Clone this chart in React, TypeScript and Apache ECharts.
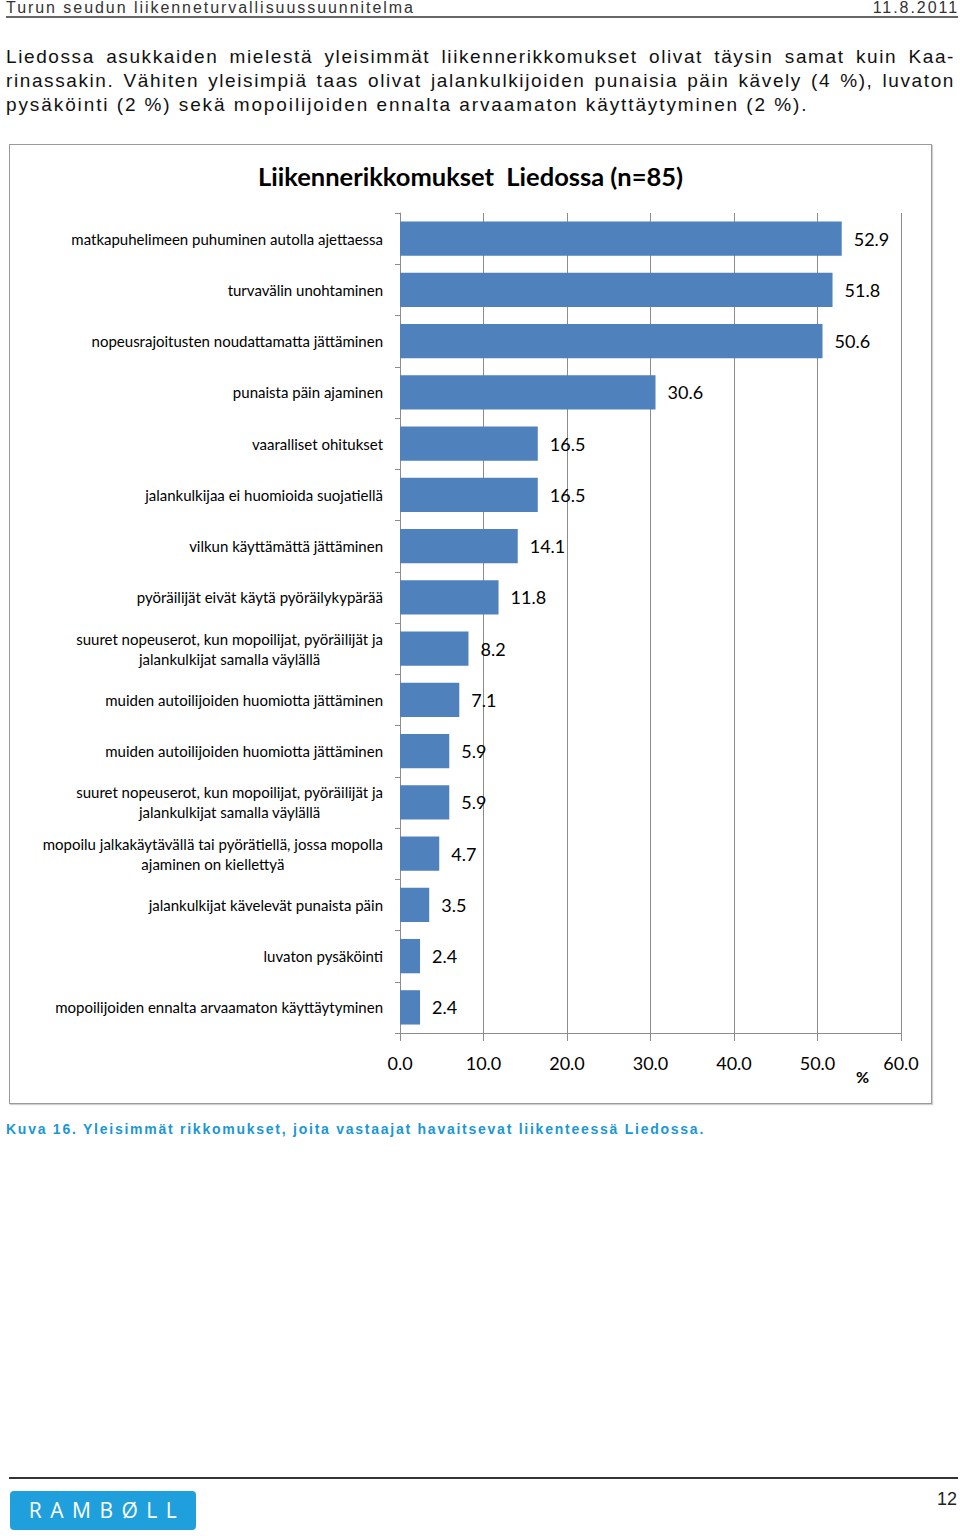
import React, { useEffect, useRef } from "react";
import * as echarts from "echarts";

const chartTitle = "Liikennerikkomukset  Liedossa (n=85)";
const categories = [
  "matkapuhelimeen puhuminen autolla ajettaessa",
  "turvavälin unohtaminen",
  "nopeusrajoitusten noudattamatta jättäminen",
  "punaista päin ajaminen",
  "vaaralliset ohitukset",
  "jalankulkijaa ei huomioida suojatiellä",
  "vilkun käyttämättä jättäminen",
  "pyöräilijät eivät käytä pyöräilykypärää",
  "suuret nopeuserot, kun mopoilijat, pyöräilijät ja\njalankulkijat samalla väylällä",
  "muiden autoilijoiden huomiotta jättäminen",
  "muiden autoilijoiden huomiotta jättäminen",
  "suuret nopeuserot, kun mopoilijat, pyöräilijät ja\njalankulkijat samalla väylällä",
  "mopoilu jalkakäytävällä tai pyörätiellä, jossa mopolla\najaminen on kiellettyä",
  "jalankulkijat kävelevät punaista päin",
  "luvaton pysäköinti",
  "mopoilijoiden ennalta arvaamaton käyttäytyminen",
];
const values = [52.9, 51.8, 50.6, 30.6, 16.5, 16.5, 14.1, 11.8, 8.2, 7.1, 5.9, 5.9, 4.7, 3.5, 2.4, 2.4];
const xMin = 0;
const xMax = 60;
const xStep = 10;
const unitLabel = "%";

const headerLeft = "Turun seudun liikenneturvallisuussuunnitelma";
const headerRight = "11.8.2011";
const paragraphLines = [
  "Liedossa asukkaiden mielestä yleisimmät liikennerikkomukset olivat täysin samat kuin Kaa-",
  "rinassakin. Vähiten yleisimpiä taas olivat jalankulkijoiden punaisia päin kävely (4 %), luvaton",
  "pysäköinti (2 %) sekä mopoilijoiden ennalta arvaamaton käyttäytyminen (2 %).",
];
const caption = "Kuva 16. Yleisimmät rikkomukset, joita vastaajat havaitsevat liikenteessä Liedossa.";
const pageNumber = "12";

const AXIS_GREY = "#8c8c8c";
const FONT = "Lato, 'Open Sans', sans-serif";

function Chart() {
  const ref = useRef<HTMLDivElement>(null);
  useEffect(() => {
    if (!ref.current) return;
    const chart = echarts.init(ref.current, undefined, { renderer: "svg" });
    chart.setOption({
      animation: false,
      title: {
        text: chartTitle,
        left: "center",
        top: 13,
        textStyle: { fontFamily: FONT, fontWeight: "bold", fontSize: 25.5, color: "#000" },
      },
      grid: { left: 390, right: 30, top: 68, bottom: 70, containLabel: false },
      xAxis: {
        type: "value",
        min: xMin,
        max: xMax,
        interval: xStep,
        axisLine: { show: true, lineStyle: { color: AXIS_GREY } },
        axisTick: { show: true, length: 8, lineStyle: { color: AXIS_GREY } },
        splitLine: { show: true, lineStyle: { color: AXIS_GREY, width: 1 } },
        axisLabel: {
          formatter: (v: number) => v.toFixed(1),
          fontFamily: FONT,
          fontSize: 18,
          color: "#000",
          margin: 21,
        },
      },
      yAxis: {
        type: "category",
        inverse: true,
        data: categories.map((_, i) => String(i)),
        axisLine: { show: true, lineStyle: { color: AXIS_GREY } },
        axisTick: { show: true, length: 5, lineStyle: { color: AXIS_GREY } },
        axisLabel: {
          interval: 0,
          margin: 17,
          fontFamily: FONT,
          fontSize: 15,
          lineHeight: 20,
          color: "#000",
          formatter: (v: string) =>
            categories[Number(v)]
              .split("\n")
              .map((l) => `{c|${l}}`)
              .join("\n"),
          rich: {
            c: { align: "center", fontFamily: FONT, fontSize: 15, lineHeight: 20, color: "#000" },
          },
        },
      },
      series: [
        {
          type: "bar",
          data: values,
          barCategoryGap: "33%",
          itemStyle: { color: "#4f81bd" },
          label: {
            show: true,
            position: "right",
            distance: 12,
            formatter: (p: any) => Number(p.value).toFixed(1),
            fontFamily: FONT,
            fontSize: 18,
            color: "#000",
          },
        },
      ],
      graphic: [
        {
          type: "text",
          left: 846,
          top: 923,
          style: { text: unitLabel, fontFamily: FONT, fontWeight: "bold", fontSize: 16, fill: "#000" },
        },
      ],
    });
    return () => chart.dispose();
  }, []);
  return <div ref={ref} style={{ width: 921, height: 958 }} />;
}

export default function App() {
  const sans = "'Liberation Sans', Arial, Helvetica, sans-serif";
  return (
    <div
      style={{
        position: "absolute",
        left: 0,
        top: 0,
        width: 960,
        height: 1536,
        background: "#fff",
        fontFamily: sans,
        overflow: "hidden",
      }}
    >
      <div style={{ position: "absolute", left: 6, top: 0, fontSize: 16, lineHeight: "16px", letterSpacing: 1.95, color: "#333", whiteSpace: "nowrap" }}>
        {headerLeft}
      </div>
      <div style={{ position: "absolute", right: 1, top: 0, fontSize: 16, lineHeight: "16px", letterSpacing: 1.95, color: "#333", whiteSpace: "nowrap" }}>
        {headerRight}
      </div>
      <div style={{ position: "absolute", left: 6, top: 16, width: 952, height: 2, background: "#666" }} />

      {paragraphLines.map((line, i) => (
        <div
          key={i}
          style={{
            position: "absolute",
            left: 6,
            top: 45 + i * 24,
            width: i < 2 ? 949 : undefined,
            fontSize: 19,
            lineHeight: "24px",
            letterSpacing: i < 2 ? 1.6 : 1.9,
            color: "#111",
            whiteSpace: "nowrap",
            textAlign: "justify",
            textAlignLast: i < 2 ? "justify" : "left",
          }}
        >
          {line}
        </div>
      ))}

      <div
        style={{
          position: "absolute",
          left: 9,
          top: 144,
          border: "1px solid #9a9a9a",
          boxShadow: "1px 1px 1px #d0d0d0",
          background: "#fff",
        }}
      >
        <Chart />
      </div>

      <div
        style={{
          position: "absolute",
          left: 6,
          top: 1122,
          fontSize: 14,
          lineHeight: "14px",
          fontWeight: "bold",
          letterSpacing: 1.75,
          color: "#1a97d4",
          whiteSpace: "nowrap",
        }}
      >
        {caption}
      </div>

      <div style={{ position: "absolute", left: 9, top: 1477, width: 949, height: 2, background: "#333" }} />
      <div
        style={{
          position: "absolute",
          left: 10,
          top: 1491,
          width: 186,
          height: 39,
          background: "#1fa0dd",
          borderRadius: 4,
          color: "#fff",
          fontFamily: "'Open Sans', sans-serif",
          fontSize: 21,
          lineHeight: "39px",
          letterSpacing: 8.5,
          textAlign: "center",
          textIndent: 8,
        }}
      >
        RAMBØLL
      </div>
      <div
        style={{
          position: "absolute",
          right: 3,
          top: 1490,
          fontFamily: "'Liberation Sans Narrow', " + sans,
          fontSize: 18,
          lineHeight: "18px",
          color: "#222",
        }}
      >
        {pageNumber}
      </div>
    </div>
  );
}
